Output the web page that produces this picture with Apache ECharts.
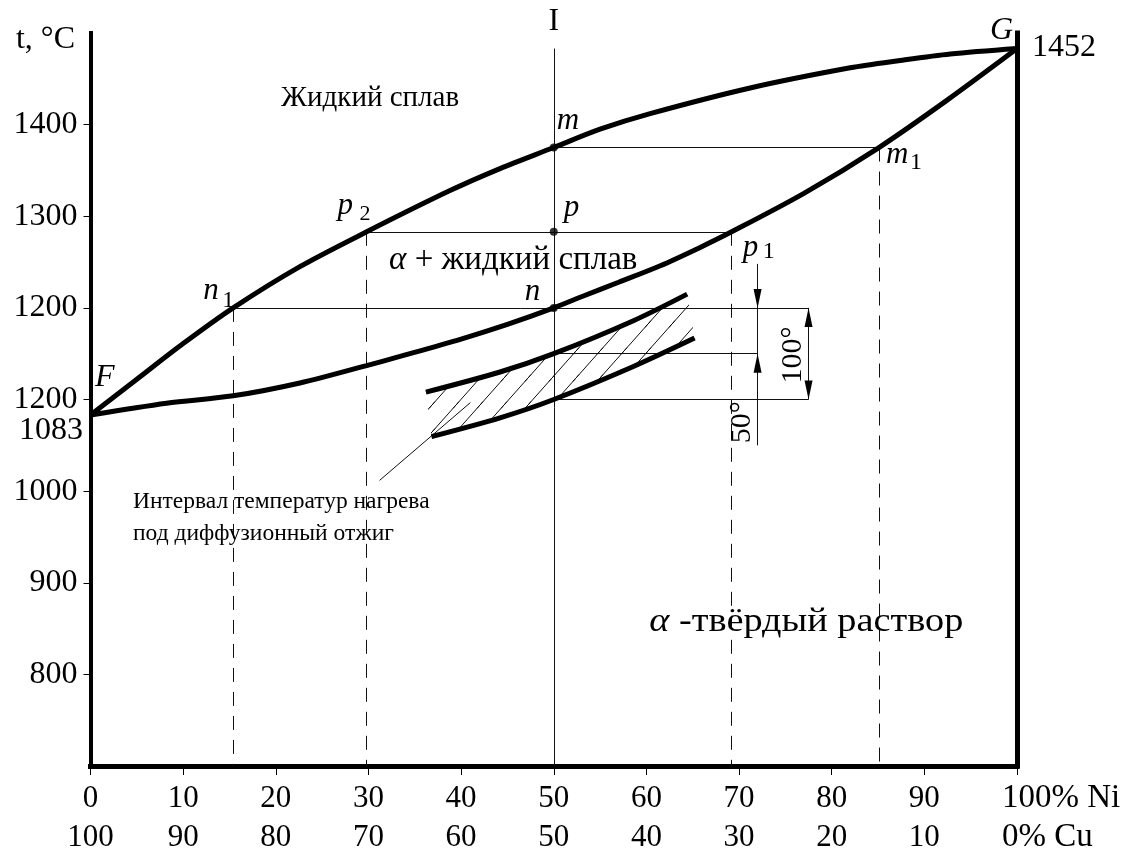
<!DOCTYPE html>
<html><head><meta charset="utf-8">
<script src="https://cdn.jsdelivr.net/npm/echarts@6/dist/echarts.min.js"></script>
<style>html,body{margin:0;padding:0;background:#fff}#c{width:1130px;height:857px}</style>
</head><body><div id="c"></div>
<script>
const FONT = '"Liberation Serif", "Times New Roman", serif';

// ---- axis ticks / labels ----
const xTicks = [0, 10, 20, 30, 40, 50, 60, 70, 80, 90];
const niLabels = ['0', '10', '20', '30', '40', '50', '60', '70', '80', '90'];
const cuLabels = ['100', '90', '80', '70', '60', '50', '40', '30', '20', '10'];
const yTickValues = [800, 900, 1000, 1100, 1200, 1300, 1400];
const yTickLabels = ['800', '900', '1000', '1200', '1200', '1300', '1400'];

// ---- curves (% Ni, °C as drawn) ----
const liquidusX = [0, 5, 10, 15.4, 22.6, 29.8, 38.8, 44.2, 50, 55, 60.4, 71.2, 82, 87.4, 92.8, 100];
const liquidusT = [1083, 1122, 1161, 1200, 1245, 1283, 1328, 1352, 1375, 1395, 1412, 1440, 1462, 1470, 1477, 1483];
const solidusX = [0, 8.2, 15.4, 22.6, 29.8, 33.4, 40, 45, 50, 53.2, 57, 61.5, 65.8, 69.2, 77, 85.1, 92.5, 100];
const solidusT = [1083, 1096, 1104, 1118, 1137, 1147, 1166, 1182, 1200, 1213, 1228, 1246, 1266, 1283, 1325, 1375, 1427, 1483];
const bandUpperX = [36.2, 44.2, 50, 58.6, 64.4];
const bandUpperT = [1108, 1130, 1150, 1186, 1215];
const bandLowerX = [36.8, 44.2, 50, 58.6, 65.2];
const bandLowerT = [1059.5, 1080, 1100, 1136, 1167];

// ---- named points ----
const ptF = [0, 1083], ptG = [100, 1483];
const ptM = [50, 1375], ptM1 = [85.1, 1375];
const ptP = [50, 1283], ptP1 = [69.2, 1283], ptP2 = [29.8, 1283];
const ptN = [50, 1200], ptN1 = [15.4, 1200];
const tMin = 700, tMax = 1500;
const lineITop = 1483;
const dim50X = 72.0, dim100X = 77.5;
const dim50Top = 1248, dim50Bottom = 1050;
const bandTopT = 1150, bandBottomT = 1100;
const leader = [[31.2, 1011.7], [41.0, 1096.6]];

const zip = (xs, ys) => xs.map((x, i) => [x, ys[i]]);

// hatch pattern
const TW = 24, TH = 27;
const tile = document.createElement('canvas');
tile.width = TW; tile.height = TH;
(function () {
  const g = tile.getContext('2d');
  g.strokeStyle = '#111'; g.lineWidth = 1;
  const k = TH / TW;
  [[0, 0], [TW, -TH], [-TW, TH]].forEach(([ox, oy]) => {
    g.beginPath();
    g.moveTo(ox - 3, oy + TH + 3 * k);
    g.lineTo(ox + TW + 3, oy - 3 * k);
    g.stroke();
  });
})();
const hatch = { image: tile, repeat: 'repeat' };

const thinSegs = [
  [[50, tMin], [50, lineITop]],
  [ptM, ptM1],
  [ptP2, ptP1],
  [ptN1, [dim100X, 1200]],
  [[50, bandTopT], [dim50X, bandTopT]],
  [[50, bandBottomT], [dim100X, bandBottomT]],
  [[dim50X, dim50Top], [dim50X, dim50Bottom]],
  [[dim100X, 1200], [dim100X, bandBottomT]],
  leader
];
const dashSegs = [
  [ptN1, [ptN1[0], tMin]],
  [ptP2, [ptP2[0], tMin]],
  [ptP1, [ptP1[0], tMin]],
  [ptM1, [ptM1[0], tMin]]
];
// arrow tips: x, T, direction (1 = pointing down, -1 = pointing up)
const arrowTips = [[dim50X, 1200, 1], [dim50X, bandTopT, -1], [dim100X, 1200, -1], [dim100X, bandBottomT, 1]];

const chart = echarts.init(document.getElementById('c'), null, { renderer: 'canvas' });

const thick = { color: '#000', width: 5 };
const curve = (xs, ys) => ({ type: 'line', data: zip(xs, ys), smooth: 0.3, symbol: 'none', lineStyle: thick, z: 3, silent: true });
const option = {
  animation: false,
  backgroundColor: '#fff',
  grid: { left: 90.5, right: 113, top: 33, bottom: 81.3, containLabel: false },
  xAxis: {
    type: 'value', min: 0, max: 100, interval: 10,
    axisLine: { show: true, lineStyle: { color: '#000', width: 5, cap: 'square' } },
    axisTick: { show: true, length: 9, lineStyle: { color: '#000', width: 1 } },
    splitLine: { show: false },
    axisLabel: {
      color: '#000', fontFamily: FONT, fontSize: 31, lineHeight: 39, margin: 13,
      formatter: v => { const i = xTicks.indexOf(v); return i < 0 ? '' : niLabels[i] + '\n' + cuLabels[i]; }
    }
  },
  yAxis: [{
    type: 'value', min: tMin, max: tMax, interval: 100,
    axisLine: { show: true, lineStyle: { color: '#000', width: 4, cap: 'square' } },
    axisTick: { show: true, length: 7, customValues: yTickValues, lineStyle: { color: '#000', width: 1 } },
    splitLine: { show: false },
    axisLabel: {
      customValues: yTickValues, color: '#000', fontFamily: FONT, fontSize: 32, margin: 13,
      formatter: v => { const i = yTickValues.indexOf(v); return i < 0 ? '' : yTickLabels[i]; }
    }
  }, {
    type: 'value', min: tMin, max: tMax, interval: 100, position: 'right',
    axisLine: { show: true, lineStyle: { color: '#000', width: 5, cap: 'square' } },
    axisTick: { show: false }, axisLabel: { show: false }, splitLine: { show: false }
  }],
  series: [
    {
      type: 'custom', coordinateSystem: 'cartesian2d', silent: true, z: 1,
      data: [[bandUpperX[0], bandUpperT[0]]],
      renderItem: (params, api) => {
        const pts = [];
        bandUpperX.forEach((x, i) => pts.push(api.coord([x, bandUpperT[i]])));
        for (let i = bandLowerX.length - 1; i >= 0; i--) pts.push(api.coord([bandLowerX[i], bandLowerT[i]]));
        return { type: 'polygon', shape: { points: pts }, style: { fill: hatch, stroke: null } };
      }
    },
    {
      type: 'lines', coordinateSystem: 'cartesian2d', silent: true, z: 2,
      lineStyle: { color: '#111', width: 1, opacity: 1 },
      data: thinSegs.map(c => ({ coords: c }))
    },
    {
      type: 'lines', coordinateSystem: 'cartesian2d', silent: true, z: 2,
      lineStyle: { color: '#111', width: 1, opacity: 1, type: [14, 10] },
      data: dashSegs.map(c => ({ coords: c }))
    },
    curve(liquidusX, liquidusT),
    curve(solidusX, solidusT),
    curve(bandUpperX, bandUpperT),
    curve(bandLowerX, bandLowerT),
    {
      type: 'custom', coordinateSystem: 'cartesian2d', silent: true, z: 4,
      data: arrowTips,
      renderItem: (params, api) => {
        const p = api.coord([api.value(0), api.value(1)]);
        const d = api.value(2), L = 19, W = 4;
        return { type: 'polygon', shape: { points: [[p[0], p[1]], [p[0] - W, p[1] - d * L], [p[0] + W, p[1] - d * L]] }, style: { fill: '#000' } };
      }
    },
    { type: 'scatter', data: [ptM, ptP, ptN], symbolSize: 8, itemStyle: { color: '#000' }, z: 5, silent: true }
  ]
};
chart.setOption(option);

const P = (pt) => chart.convertToPixel({ xAxisIndex: 0, yAxisIndex: 0 }, pt);
const G = [];
function txt(text, pt, dx, dy, o = {}) {
  const p = P(pt);
  const fs = o.fs || 32;
  G.push({
    type: 'text', x: p[0] + dx, y: p[1] + dy, rotation: o.rot || 0, scaleX: o.sx || 1, z: 100, silent: true,
    style: {
      text, fill: '#000',
      font: (o.italic ? 'italic ' : '') + fs + 'px ' + FONT,
      align: o.align || 'left', textAlign: o.align || 'left',
      verticalAlign: 'middle', textVerticalAlign: 'middle',
      rich: o.rich
    }
  });
}
const it = (fs) => ({ a: { fontStyle: 'italic', fontFamily: FONT, fontSize: fs } });
// point labels
txt('m', ptM, 3, -27, { italic: true, fs: 31 });
txt('m', ptM1, 7, 7, { italic: true, fs: 31 });
txt('1', ptM1, 31, 15, { fs: 24 });
txt('p', ptP2, -29, -26, { italic: true, fs: 31 });
txt('2', ptP2, -7, -18, { fs: 22 });
txt('p', ptP, 10, -24, { italic: true, fs: 31 });
txt('p', ptP1, 11, 16, { italic: true, fs: 31 });
txt('1', ptP1, 31, 20, { fs: 24 });
txt('n', ptN1, -30, -17, { italic: true, fs: 31 });
txt('1', ptN1, -11, -7, { fs: 24 });
txt('n', ptN, -29, -16, { italic: true, fs: 31 });
txt('F', ptF, 4.5, -37, { italic: true, fs: 32 });
txt('G', ptG, -27, -18, { italic: true, fs: 32 });
txt('1452', ptG, 15, -0.5, { fs: 32 });
txt('1083', ptF, -7.5, 16, { fs: 32, align: 'right' });
txt('t, °C', [0, tMax], -15.5, 7, { fs: 32, align: 'right' });
txt('I', [50, 1512.8], 0, 0, { fs: 32, align: 'center' });
txt('100% Ni', [100, tMin], -15, 32, { fs: 33 });
txt('0% Cu', [100, tMin], -15, 71, { fs: 33 });
// region labels
txt('Жидкий сплав', [30.18, 1428.8], 0, 0, { fs: 29, align: 'center' });
txt('{a|α} + жидкий сплав', [45.63, 1252], 0, 0, { fs: 33, align: 'center', rich: it(33) });
txt('{a|α} -твёрдый раствор', [60.31, 856.6], 0, 0, { fs: 33, sx: 1.16, rich: it(33) });
txt('Интервал температур нагрева', [4.59, 988], 0, 0, { fs: 23.5 });
txt('под диффузионный отжиг', [4.59, 953.6], 0, 0, { fs: 23.5 });
txt('50°', [70.36, 1075.3], 0, 0, { fs: 30, align: 'center', rot: Math.PI / 2 });
txt('100°', [75.87, 1148.6], 0, 0, { fs: 30, align: 'center', rot: Math.PI / 2 });
chart.setOption({ graphic: { elements: G } });
</script></body></html>
